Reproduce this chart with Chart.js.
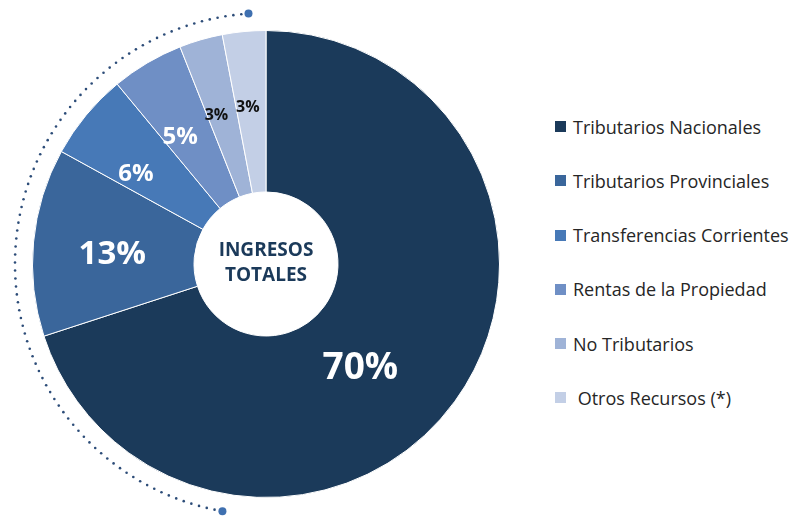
<!DOCTYPE html>
<html>
<head>
<meta charset="utf-8">
<script src="https://cdn.jsdelivr.net/npm/chart.js@4"></script>
<style>
body{margin:0;background:#fff;font-family:"Open Sans",sans-serif;}
#wrap{position:relative;width:791px;height:518px;overflow:hidden;}
#pie{position:absolute;left:0;top:0;}
#legend{position:absolute;left:555px;top:0;margin:0;padding:0;list-style:none;}
#legend li{position:absolute;left:0;height:22px;white-space:pre;font-size:18px;color:#262626;display:flex;align-items:center;}
#legend .box{width:11px;height:11px;margin-right:7px;display:inline-block;}
</style>
</head>
<body>
<div id="wrap">
  <canvas id="pie" width="532" height="518"></canvas>
  <ul id="legend"></ul>
</div>
<script>
// datos
const categorias = ["Tributarios Nacionales","Tributarios Provinciales","Transferencias Corrientes","Rentas de la Propiedad","No Tributarios"," Otros Recursos (*)"];
const valores = [70, 13, 6, 5, 3, 3];
const colores = ["#1b3a5a","#3a669b","#4779b7","#6f8fc5","#9fb3d7","#c3cfe6"];
const tituloCentro = ["INGRESOS","TOTALES"];

// estilo de las etiquetas dentro de cada porcion
const estiloEtiq = [
  {size:37, color:"#fff", r:141, da:12},
  {size:33, color:"#fff", r:154, da:-2},
  {size:24, color:"#fff", r:158, da:-5},
  {size:24, color:"#fff", r:153, da:-3.5},
  {size:16, color:"#111", r:157, da:-2.2},
  {size:16, color:"#111", r:158, da:-1.2}
];

// leyenda
const legend = document.getElementById("legend");
categorias.forEach((c,i)=>{
  const li = document.createElement("li");
  li.style.top = (126.7 + i*54.2 - 11) + "px";
  li.innerHTML = `<span class="box" style="background:${colores[i]}"></span>${c}`;
  legend.appendChild(li);
});

const extras = {
  id: "extras",
  afterDatasetsDraw(chart){
    const ctx = chart.ctx;
    const arcs = chart.getDatasetMeta(0).data;
    const cx = arcs[0].x, cy = arcs[0].y;
    ctx.save();
    // porcentajes
    ctx.textAlign = "center";
    ctx.textBaseline = "middle";
    arcs.forEach((a,i)=>{
      const st = estiloEtiq[i];
      const ang = (a.startAngle + a.endAngle)/2 + st.da*Math.PI/180;
      ctx.font = `bold ${st.size}px "Open Sans"`;
      ctx.fillStyle = st.color;
      ctx.fillText(valores[i] + "%", cx + st.r*Math.cos(ang), cy + st.r*Math.sin(ang));
    });
    // texto central
    ctx.font = 'bold 19px "Open Sans"';
    ctx.fillStyle = "#1b3a5a";
    ctx.fillText(tituloCentro[0], cx, cy - 13);
    ctx.fillText(tituloCentro[1], cx, cy + 12);
    // arco punteado
    const R = 251, a0 = 100*Math.PI/180, a1 = 266*Math.PI/180;
    const step = 8/R;
    ctx.fillStyle = "#2c4c78";
    for(let t=a0+step; t<a1-step/2; t+=step){
      ctx.beginPath();
      ctx.arc(cx + R*Math.cos(t), cy + R*Math.sin(t), 1.3, 0, Math.PI*2);
      ctx.fill();
    }
    ctx.fillStyle = "#3f70b0";
    [a0,a1].forEach(t=>{
      ctx.beginPath();
      ctx.arc(cx + R*Math.cos(t), cy + R*Math.sin(t), 4, 0, Math.PI*2);
      ctx.fill();
    });
    ctx.restore();
  }
};

new Chart(document.getElementById("pie").getContext("2d"), {
  type: "doughnut",
  data: {
    labels: categorias,
    datasets: [{
      data: valores,
      backgroundColor: colores,
      borderColor: "#ffffff",
      borderWidth: 1
    }]
  },
  options: {
    responsive: false,
    animation: false,
    cutout: 72,
    layout: {padding: {top: 30, bottom: 20, left: 0, right: 0}},
    plugins: {legend: {display: false}, tooltip: {enabled: false}}
  },
  plugins: [extras]
});
</script>
</body>
</html>
